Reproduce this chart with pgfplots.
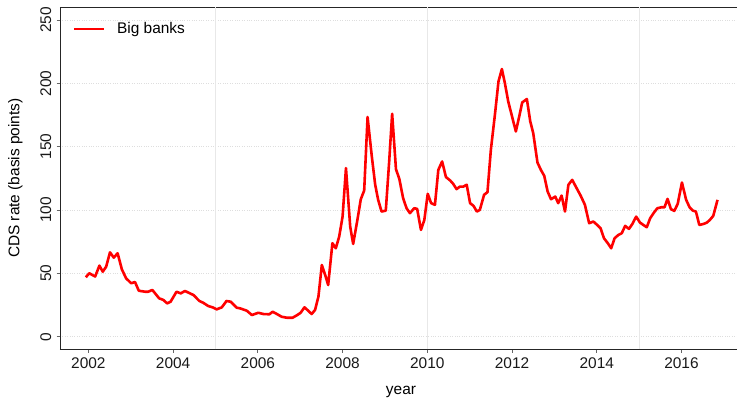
\documentclass[border=0pt]{standalone}
\usepackage{fontspec}
\setmainfont{Liberation Sans}
\usepackage{pgfplots}
\pgfplotsset{compat=1.18}
\newcommand{\chfont}{\fontsize{15.5}{18}\selectfont}
\begin{document}
\chfont
\begin{tikzpicture}
\begin{axis}[
  scale only axis, width=677bp, height=341.7bp,
  xmin=2001.33, xmax=2017.31, ymin=-9.7, ymax=260,
  axis x line=box, axis y line=left,
  axis line style={-, line width=0.9bp, black!85},
  xtick={2002,2004,...,2016},
  ytick={0,50,...,250},
  xtick pos=left,
  tick align=outside,
  major tick length=3.5bp,
  tick style={black!60, line width=0.8bp},
  ymajorgrids,
  major grid style={dotted, black!13, line width=0.7bp},
  extra x ticks={2005,2010,2015},
  extra x tick labels={},
  extra x tick style={grid=major, major tick length=0pt, major grid style={solid, black!9, line width=0.6bp}},
  every tick label/.append style={font=\chfont, text=black!90},
  /pgf/number format/.cd, 1000 sep={}, assume math mode=true,
  /pgfplots/.cd,
  yticklabel style={rotate=90, anchor=south},
  xlabel={year},
  xlabel style={font=\chfont, at={([yshift=-45.7bp]axis description cs:0.5037,0)}, anchor=base},
  ylabel={CDS rate (basis points)},
  ylabel style={font=\chfont, at={([xshift=-44.5bp]axis description cs:0,0.5)}, anchor=center},
  legend style={at={(rel axis cs:0,1)}, anchor=north west, draw=none, fill=none,
    inner sep=0pt, outer sep=0pt, font=\chfont, column sep=9.5bp, xshift=13bp, yshift=-13bp},
  legend image code/.code={\draw[#1] (0bp,0bp) -- (30bp,0bp);},
]
\addplot[red, line width=2.6bp, line join=round] coordinates {
(2001.94,46.9) (2002.02,50.1) (2002.16,47.5) (2002.26,56.1) (2002.34,51.3) (2002.42,55.3)
(2002.51,66.6) (2002.60,62.4) (2002.69,65.9) (2002.79,53.2) (2002.89,46.1) (2003.01,42.2)
(2003.10,43.2) (2003.19,36.3) (2003.34,35.5) (2003.41,35.5) (2003.51,36.9) (2003.67,30.3)
(2003.77,29.0) (2003.86,26.3) (2003.94,27.6) (2004.08,35.5) (2004.18,34.2) (2004.28,36.1)
(2004.48,32.9) (2004.62,28.2) (2004.71,26.8) (2004.83,24.2) (2004.93,23.2) (2005.03,21.6)
(2005.15,23.2) (2005.26,28.2) (2005.36,27.6) (2005.50,22.9) (2005.58,22.4) (2005.74,20.5)
(2005.86,17.1) (2006.01,18.9) (2006.13,17.9) (2006.27,17.7) (2006.35,19.7) (2006.45,17.9)
(2006.56,15.8) (2006.68,15.0) (2006.82,15.0) (2006.93,17.1) (2007.01,18.9) (2007.10,23.2)
(2007.19,20.5) (2007.27,17.9) (2007.35,21.1) (2007.43,31.6) (2007.51,56.6) (2007.59,48.7)
(2007.66,40.8) (2007.76,73.8) (2007.84,69.8) (2007.92,79.0) (2008.00,94.8) (2008.08,133.1)
(2008.18,86.9) (2008.25,73.2) (2008.35,92.2) (2008.43,108.5) (2008.51,115.4) (2008.59,173.4)
(2008.69,142.3) (2008.77,119.9) (2008.84,108.0) (2008.92,98.8) (2009.02,99.5) (2009.10,138.3)
(2009.17,176.0) (2009.26,132.3) (2009.34,124.4) (2009.43,109.3) (2009.51,101.4) (2009.59,97.5)
(2009.69,101.4) (2009.76,100.9) (2009.85,84.3) (2009.93,92.2) (2010.01,112.8) (2010.09,105.4)
(2010.18,104.1) (2010.26,131.7) (2010.35,138.3) (2010.44,126.0) (2010.54,123.3) (2010.61,120.7)
(2010.69,116.5) (2010.77,118.5) (2010.85,118.5) (2010.93,119.9) (2011.01,105.4) (2011.09,103.3)
(2011.17,98.8) (2011.24,100.1) (2011.34,112.0) (2011.42,114.1) (2011.50,147.5) (2011.60,176.5)
(2011.68,201.5) (2011.76,211.3) (2011.83,200.3) (2011.91,185.7) (2012.01,172.5) (2012.09,162.0)
(2012.17,173.9) (2012.24,184.9) (2012.35,187.6) (2012.43,169.9) (2012.50,160.7) (2012.60,137.5)
(2012.68,131.7) (2012.76,127.0) (2012.84,114.6) (2012.92,108.5) (2013.02,110.6) (2013.09,105.4)
(2013.17,111.4) (2013.25,98.8) (2013.33,119.9) (2013.42,123.8) (2013.53,116.9) (2013.62,111.3)
(2013.72,104.1) (2013.82,89.6) (2013.92,90.9) (2014.01,88.2) (2014.09,85.6) (2014.17,77.7)
(2014.26,73.8) (2014.34,69.8) (2014.42,77.7) (2014.51,80.3) (2014.59,81.7) (2014.67,87.5)
(2014.76,85.1) (2014.84,89.0) (2014.93,94.8) (2015.02,90.1) (2015.10,88.2) (2015.18,86.4)
(2015.26,93.5) (2015.35,98.0) (2015.43,101.4) (2015.53,102.2) (2015.60,102.2) (2015.67,108.8)
(2015.75,100.7) (2015.83,99.3) (2015.91,104.8) (2016.01,121.7) (2016.11,108.0) (2016.19,102.2)
(2016.27,99.5) (2016.34,98.8) (2016.42,88.2) (2016.52,89.0) (2016.60,90.1) (2016.67,92.2)
(2016.75,95.4) (2016.85,108.0)
};
\addlegendentry{Big banks}
\coordinate (bl) at (rel axis cs:0,0);
\coordinate (tr) at (rel axis cs:1,1);
\end{axis}
\pgfresetboundingbox
\path[use as bounding box] ([shift={(-60bp,-49bp)}]bl) rectangle ([shift={(0bp,7.3bp)}]tr);
\end{tikzpicture}
\end{document}
